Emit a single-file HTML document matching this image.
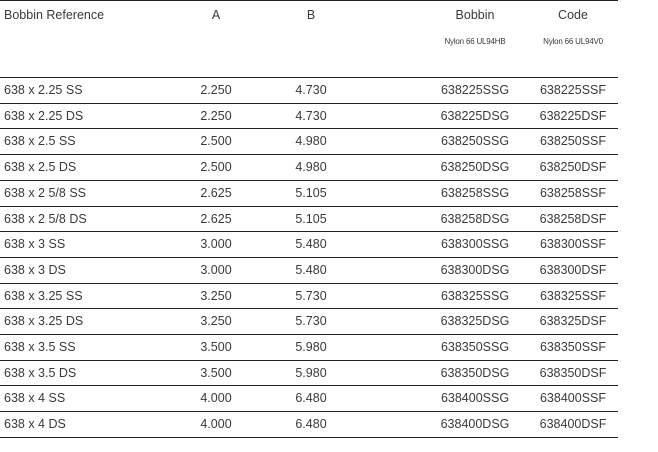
<!DOCTYPE html>
<html><head><style>
body{margin:0;width:658px;height:452px;background:#fff;font-family:"Liberation Sans",Arial,sans-serif;color:#3a3a3a;font-size:12.5px;position:relative;overflow:hidden}
.l{position:absolute;left:0;width:618px;height:1px;background:#222}
.t{position:absolute;white-space:nowrap;line-height:14px}
.c{transform:translateX(-50%)}
.s{font-size:8px;letter-spacing:-0.2px}
</style></head><body>
<div class="l" style="top:0"></div>
<div class="t" style="left:4px;top:8px">Bobbin Reference</div>
<div class="t c" style="left:216px;top:8px">A</div>
<div class="t c" style="left:311px;top:8px">B</div>
<div class="t c" style="left:475px;top:8px">Bobbin</div>
<div class="t c" style="left:573px;top:8px">Code</div>
<div class="t c s" style="left:475px;top:35px">Nylon 66 UL94HB</div>
<div class="t c s" style="left:573px;top:35px">Nylon 66 UL94V0</div>
<div id="rows"></div>
<script>
var d=[["638 x 2.25 SS","2.250","4.730","638225SSG","638225SSF"],["638 x 2.25 DS","2.250","4.730","638225DSG","638225DSF"],["638 x 2.5 SS","2.500","4.980","638250SSG","638250SSF"],["638 x 2.5 DS","2.500","4.980","638250DSG","638250DSF"],["638 x 2 5/8 SS","2.625","5.105","638258SSG","638258SSF"],["638 x 2 5/8 DS","2.625","5.105","638258DSG","638258DSF"],["638 x 3 SS","3.000","5.480","638300SSG","638300SSF"],["638 x 3 DS","3.000","5.480","638300DSG","638300DSF"],["638 x 3.25 SS","3.250","5.730","638325SSG","638325SSF"],["638 x 3.25 DS","3.250","5.730","638325DSG","638325DSF"],["638 x 3.5 SS","3.500","5.980","638350SSG","638350SSF"],["638 x 3.5 DS","3.500","5.980","638350DSG","638350DSF"],["638 x 4 SS","4.000","6.480","638400SSG","638400SSF"],["638 x 4 DS","4.000","6.480","638400DSG","638400DSF"]];
var h='',xs=[216,311,475,573];
h+='<div class="l" style="top:77px"></div>';
for(var i=0;i<d.length;i++){var y=77+i*25.7;var ty=Math.round(y+6);
h+='<div class="t" style="left:4px;top:'+ty+'px">'+d[i][0]+'</div>';
for(var j=0;j<4;j++)h+='<div class="t c" style="left:'+xs[j]+'px;top:'+ty+'px">'+d[i][j+1]+'</div>';
h+='<div class="l" style="top:'+Math.round(y+25.7)+'px"></div>';}
document.getElementById('rows').innerHTML=h;
</script>
</body></html>
